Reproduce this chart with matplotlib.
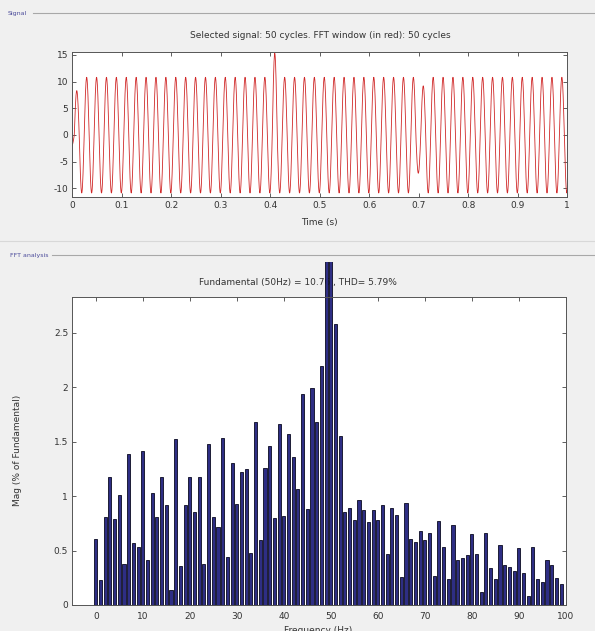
import numpy as np
import matplotlib
matplotlib.use("Agg")
import matplotlib.pyplot as plt
from matplotlib.transforms import Bbox, TransformedBbox

plt.rcParams["axes.unicode_minus"] = False

# signal: peak value of every positive half cycle (50 cycles, 50 Hz)
pos_peaks = [8.3] + [10.8] * 19 + [15.3] + [10.8] * 14 + [9.2] + [10.8] * 14
# trough value of every negative half cycle (first one is the start-up part)
neg_peaks = [-2.0] + [-10.9] * 34 + [-7.2] + [-10.9] * 15

# FFT magnitudes (% of fundamental), 0..99 Hz
freqs = list(range(100))
mags = [0.61, 0.23, 0.81, 1.17, 0.79, 1.01, 0.38, 1.39, 0.57, 0.53,
        1.41, 0.41, 1.03, 0.81, 1.17, 0.92, 0.14, 1.52, 0.36, 0.92,
        1.17, 0.85, 1.17, 0.38, 1.48, 0.81, 0.72, 1.53, 0.44, 1.30,
        0.93, 1.22, 1.25, 0.48, 1.68, 0.60, 1.26, 1.46, 0.80, 1.66,
        0.82, 1.57, 1.36, 1.06, 1.94, 0.88, 1.99, 1.68, 2.19, 3.60,
        100.0, 2.58, 1.55, 0.85, 0.89, 0.78, 0.96, 0.87, 0.76, 0.87,
        0.78, 0.92, 0.47, 0.89, 0.83, 0.26, 0.94, 0.61, 0.58, 0.68,
        0.60, 0.66, 0.27, 0.77, 0.53, 0.24, 0.73, 0.41, 0.43, 0.46,
        0.65, 0.47, 0.12, 0.66, 0.34, 0.24, 0.55, 0.37, 0.35, 0.31,
        0.52, 0.29, 0.08, 0.53, 0.24, 0.21, 0.41, 0.37, 0.25, 0.19]

xt_time = [0, 0.1, 0.2, 0.3, 0.4, 0.5, 0.6, 0.7, 0.8, 0.9, 1]
xt_time_lbl = ["0", "0.1", "0.2", "0.3", "0.4", "0.5", "0.6", "0.7", "0.8", "0.9", "1"]
yt_sig = [-10, -5, 0, 5, 10, 15]
xt_freq = [0, 10, 20, 30, 40, 50, 60, 70, 80, 90, 100]
yt_mag = [0, 0.5, 1, 1.5, 2, 2.5]
yt_mag_lbl = ["0", "0.5", "1", "1.5", "2", "2.5"]

txt = "#333333"
fs = 6.5
W, H = 595, 631

fig = plt.figure(figsize=(W / 100, H / 100), dpi=100, facecolor="#f0f0f0")

def fy(py):
    return 1 - py / H

# panel headers
fig.text(8 / W, fy(13), "Signal", fontsize=4.5, color="#4a4a9a", va="center")
fig.add_artist(plt.Line2D([33 / W, 1], [fy(13), fy(13)], color="#a8a8a8", lw=0.8))
fig.add_artist(plt.Line2D([0, 1], [fy(241), fy(241)], color="#d8d8d8", lw=0.8))
fig.text(10 / W, fy(255), "FFT analysis", fontsize=4.5, color="#4a4a9a", va="center")
fig.add_artist(plt.Line2D([52 / W, 1], [fy(255), fy(255)], color="#a8a8a8", lw=0.8))

# ---- signal ----
ax1 = fig.add_axes([72.3 / W, fy(196.7), 495 / W, (196.7 - 51.7) / H])
t = np.linspace(0, 1, 6001)
theta = 2 * np.pi * 50 * (t - 0.004)
half = np.floor(theta / np.pi).astype(int)
amp = np.empty_like(t)
for i, h in enumerate(half):
    if h % 2 == 0:
        amp[i] = pos_peaks[min(h // 2, len(pos_peaks) - 1)]
    else:
        amp[i] = -neg_peaks[min((h + 1) // 2, len(neg_peaks) - 1)]
sig = amp * np.sin(theta)
ax1.plot(t, sig, color="#d02828", lw=0.6)
ax1.set_xlim(0, 1)
ax1.set_ylim(-11.6, 15.6)
ax1.set_xticks(xt_time)
ax1.set_xticklabels(xt_time_lbl)
ax1.set_yticks(yt_sig)

# ---- FFT ----
ax2 = fig.add_axes([72.3 / W, fy(605), 493.5 / W, (605 - 297) / H])
ax2.text(0.5, fy(283), "Fundamental (50Hz) = 10.76 , THD= 5.79%",
         transform=fig.transFigure, ha="center", va="center", fontsize=fs,
         color=txt, zorder=1, clip_on=False)
bars = ax2.bar(freqs, mags, width=0.65, color="#2e2e84", edgecolor="#0a0a20",
               lw=0.6, zorder=2)
clip = TransformedBbox(Bbox([[72.3 / W, 0], [565.8 / W, fy(262)]]), fig.transFigure)
for b in bars:
    b.set_clip_box(clip)
ax2.set_xlim(-5, 100)
ax2.set_ylim(0, 2.826)
ax2.set_xticks(xt_freq)
ax2.set_yticks(yt_mag)
ax2.set_yticklabels(yt_mag_lbl)

for ax in (ax1, ax2):
    ax.set_facecolor("white")
    ax.tick_params(direction="in", top=True, right=True, length=3, width=0.6,
                   labelsize=fs, colors="#444444", labelcolor=txt, pad=3)
    for s in ax.spines.values():
        s.set_color("#555555")
        s.set_linewidth(0.7)
ax2.tick_params(axis="x", pad=5)

fig.text(0.5375, fy(35), "Selected signal: 50 cycles. FFT window (in red): 50 cycles",
         ha="center", va="center", fontsize=fs, color=txt)
fig.text(0.5375, fy(222), "Time (s)", ha="center", va="center", fontsize=fs, color=txt)
fig.text(18 / W, fy(450), "Mag (% of Fundamental)", rotation=90, ha="center",
         va="center", fontsize=fs, color=txt)
fig.text(0.535, fy(626), "Frequency (Hz)", ha="center", va="top", fontsize=fs,
         color=txt)

fig.savefig("out.png", dpi=100, facecolor=fig.get_facecolor())
